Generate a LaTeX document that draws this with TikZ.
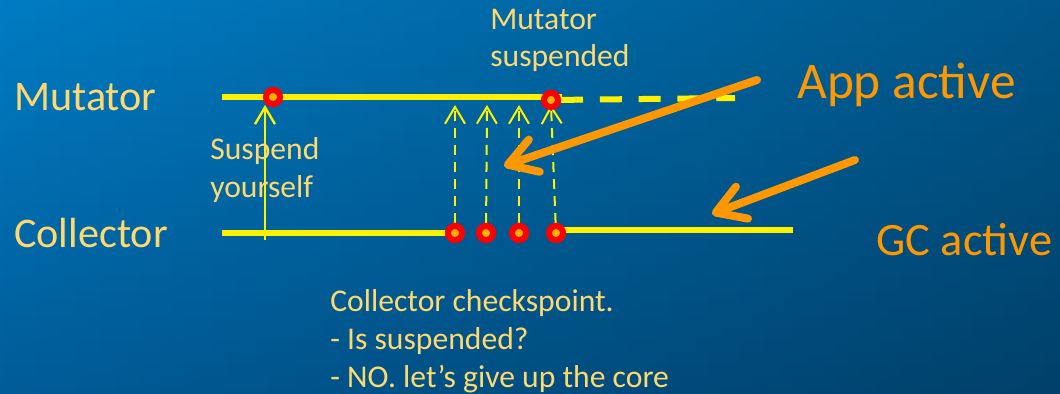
\documentclass[tikz,border=0pt]{standalone}
\usepackage{fontspec}
\setmainfont{Carlito}
\usetikzlibrary{arrows.meta,fadings}
\definecolor{bgtop}{RGB}{0,124,196}
\definecolor{bgbot}{RGB}{0,92,152}
\definecolor{pale}{RGB}{255,217,110}
\definecolor{hintorange}{RGB}{255,152,0}
\definecolor{dotfill}{RGB}{255,180,0}
\tikzstyle{dot}=[circle,draw=red,fill=dotfill,line width=0.15cm,minimum size=0.35cm,inner sep=0pt]
\tikzstyle{track}=[yellow,line width=0.15cm]
\tikzstyle{poll}=[yellow,line width=0.05cm,dash pattern=on 0.25cm off 0.175cm,-{Straight Barb[length=0.42cm,width=0.5cm]}]
\tikzstyle{hint}=[hintorange,line width=0.2cm,line cap=round,-{Straight Barb[length=0.7cm,width=0.85cm,round]}]
\tikzstyle{bigtxt}=[pale,inner sep=0pt,anchor=base west,font=\fontsize{30}{36}\selectfont]
\tikzstyle{smalltxt}=[pale,inner sep=0pt,anchor=base west,align=left,font=\fontsize{22.5}{27}\selectfont]
\tikzstyle{hinttxt}=[hintorange,inner sep=0pt,anchor=base west]

\begin{document}
\begin{tikzpicture}[x=0.025cm,y=-0.025cm]
        % background
        \useasboundingbox (0,0) rectangle (1060,394);
        \shade[top color=bgtop,bottom color=bgbot] (0,0) rectangle (1060,394);
        \fill[black,fill opacity=0.3,path fading=west] (0,0) rectangle (1060,394);

        % the two threads
        \coordinate (mL) at (222,97);
        \coordinate (mR) at (562,97);
        \coordinate (mE) at (735,98);
        \coordinate (cL) at (222,233);
        \coordinate (cM) at (556,230);
        \coordinate (cR) at (793,230);
        \node[dot] (m1) at (273,97) {};
        \node[dot] (m2) at (551,100) {};
        \node[dot] (c1) at (455,233) {};
        \node[dot] (c2) at (486,233) {};
        \node[dot] (c3) at (519,233) {};
        \node[dot] (c4) at (556,233) {};
        \draw[track] (mL) -- (mR);
        \draw[track,dash pattern=on 0.55cm off 0.42cm] (m2) -- (mE);
        \draw[track] (cL) -- (c1);
        \draw[track] (cM) -- (cR);

        % suspend request
        \coordinate (sB) at (265,240);
        \coordinate (sT) at (265,105);
        \draw[yellow,line width=0.06cm,-{Straight Barb[length=0.42cm,width=0.5cm]}] (sB) -- (sT);

        % checkpoints
        \foreach \c/\x in {c1/455,c2/487,c3/519,c4/551}{
            \coordinate (t\c) at (\x,105);
            \draw[poll] (\c) -- (t\c);
        }
        \node[dot] at (m1) {};
        \node[dot] at (m2) {};
        \foreach \c in {c1,c2,c3,c4} \node[dot] at (\c) {};

        % labels (base of a two-line label is its last line)
        \node[bigtxt] (mutLab) at (14,110) {Mutator};
        \node[bigtxt] (colLab) at (14,247) {Collector};
        \node[smalltxt] (suspLab) at (490,67) {Mutator\\suspended};
        \node[smalltxt] (selfLab) at (210,197) {Suspend\\yourself};
        \node[smalltxt] (checkLab) at (330,387) {Collector checkspoint.\\- Is suspended?\\- NO. let’s give up the core};
        \node[hinttxt,font=\fontsize{36.5}{40}\selectfont] (appLab) at (797,99) {App active};
        \node[hinttxt,font=\fontsize{33}{38}\selectfont] (gcLab) at (876,255) {GC active};

        % pointers
        \coordinate (appS) at (757,80);
        \coordinate (appT) at (504,166);
        \coordinate (gcS) at (855,160);
        \coordinate (gcT) at (712,214);
        \draw[hint] (appS) -- (appT);
        \draw[hint] (gcS) -- (gcT);
    \end{tikzpicture}
\end{document}
